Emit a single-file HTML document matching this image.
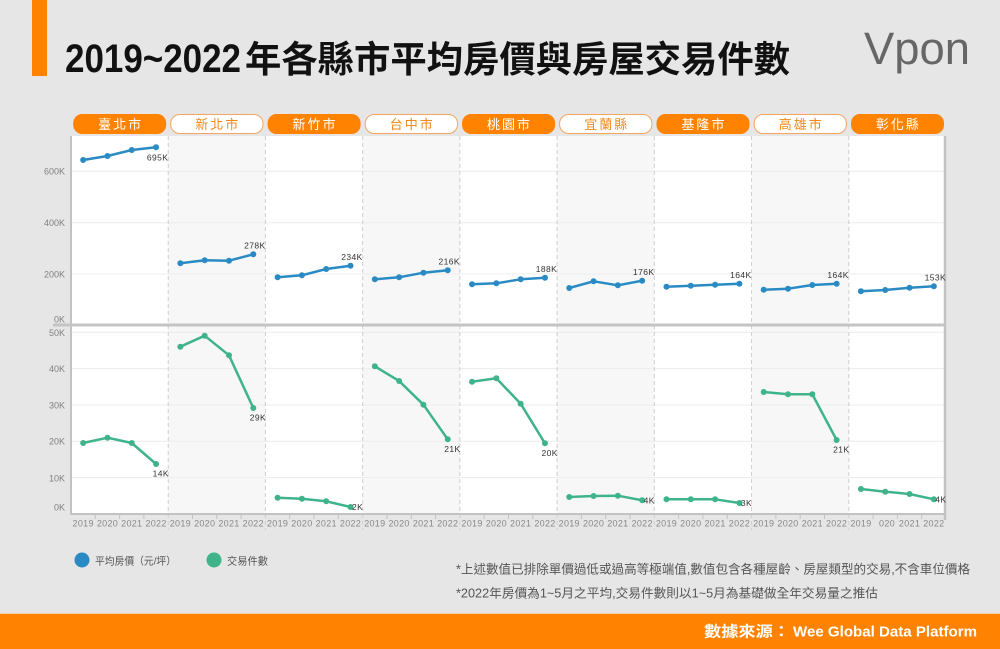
<!DOCTYPE html>
<html><head><meta charset="utf-8"><style>
html,body{margin:0;padding:0;background:#e6e6e6;}
svg{display:block;}
text{font-family:"Liberation Sans","Noto Sans CJK TC",sans-serif;}
</style></head><body>
<svg width="1000" height="649" viewBox="0 0 1000 649" xmlns="http://www.w3.org/2000/svg">
<rect x="0" y="0" width="1000" height="649" fill="#e6e6e6"/>
<!-- title -->
<rect x="32" y="0" width="15" height="76" fill="#ff8300"/>
<text x="65" y="72" font-size="40" font-weight="bold" fill="#111" textLength="176" lengthAdjust="spacingAndGlyphs">2019~2022</text>
<text x="245" y="72" font-size="36.5" font-weight="bold" fill="#111" textLength="545" lengthAdjust="spacingAndGlyphs" style="font-family:'Noto Sans CJK TC',sans-serif">年各縣市平均房價與房屋交易件數</text>
<text x="864" y="64" font-size="45" fill="#666" textLength="106" lengthAdjust="spacingAndGlyphs">Vpon</text>

<!-- tabs -->
<g font-size="13" text-anchor="middle" letter-spacing="2" style="font-family:'Noto Sans CJK TC',sans-serif">
<rect x="73.2" y="114" width="93" height="20" rx="9" fill="#ff8300"/><text x="120.6" y="129" fill="#fff">臺北市</text>
<rect x="170.7" y="114.5" width="92.3" height="19" rx="9" fill="#fff" stroke="#f2a55e" stroke-width="1"/><text x="217.8" y="129" fill="#f08a1a">新北市</text>
<rect x="267.6" y="114" width="93" height="20" rx="9" fill="#ff8300"/><text x="315" y="129" fill="#fff">新竹市</text>
<rect x="365.2" y="114.5" width="92.3" height="19" rx="9" fill="#fff" stroke="#f2a55e" stroke-width="1"/><text x="412.3" y="129" fill="#f08a1a">台中市</text>
<rect x="462.1" y="114" width="93" height="20" rx="9" fill="#ff8300"/><text x="509.5" y="129" fill="#fff">桃園市</text>
<rect x="559.6" y="114.5" width="92.3" height="19" rx="9" fill="#fff" stroke="#f2a55e" stroke-width="1"/><text x="606.7" y="129" fill="#f08a1a">宜蘭縣</text>
<rect x="656.5" y="114" width="93" height="20" rx="9" fill="#ff8300"/><text x="703.9" y="129" fill="#fff">基隆市</text>
<rect x="754.1" y="114.5" width="92.3" height="19" rx="9" fill="#fff" stroke="#f2a55e" stroke-width="1"/><text x="801.2" y="129" fill="#f08a1a">高雄市</text>
<rect x="851" y="114" width="93" height="20" rx="9" fill="#ff8300"/><text x="898.4" y="129" fill="#fff">彰化縣</text>
</g>

<!-- plot backgrounds -->
<rect x="71" y="136" width="875" height="378" fill="#ffffff"/>
<g fill="#f7f7f7">
<rect x="168.22" y="136" width="97.22" height="378"/>
<rect x="362.67" y="136" width="97.22" height="378"/>
<rect x="557.11" y="136" width="97.22" height="378"/>
<rect x="751.56" y="136" width="97.22" height="378"/>
</g>
<!-- gridlines -->
<g stroke="#ececec" stroke-width="1">
<line x1="71" x2="946" y1="171.3" y2="171.3"/>
<line x1="71" x2="946" y1="222.7" y2="222.7"/>
<line x1="71" x2="946" y1="274" y2="274"/>
<line x1="71" x2="946" y1="332.3" y2="332.3"/>
<line x1="71" x2="946" y1="368.6" y2="368.6"/>
<line x1="71" x2="946" y1="405" y2="405"/>
<line x1="71" x2="946" y1="441.3" y2="441.3"/>
<line x1="71" x2="946" y1="477.6" y2="477.6"/>
</g>
<!-- dashed separators -->
<g stroke="#cfcfcf" stroke-width="1" stroke-dasharray="4 3">
<line x1="168.22" x2="168.22" y1="136" y2="530"/>
<line x1="265.44" x2="265.44" y1="136" y2="530"/>
<line x1="362.67" x2="362.67" y1="136" y2="530"/>
<line x1="459.89" x2="459.89" y1="136" y2="530"/>
<line x1="557.11" x2="557.11" y1="136" y2="530"/>
<line x1="654.33" x2="654.33" y1="136" y2="530"/>
<line x1="751.56" x2="751.56" y1="136" y2="530"/>
<line x1="848.78" x2="848.78" y1="136" y2="530"/>
</g>
<!-- axes -->
<line x1="71" x2="71" y1="136" y2="515" stroke="#c2c2c2" stroke-width="2"/>
<line x1="945" x2="945" y1="136" y2="520" stroke="#c2c2c2" stroke-width="2.5"/>
<line x1="53" x2="946" y1="325" y2="325" stroke="#c4c4c4" stroke-width="3"/>
<line x1="70" x2="946" y1="514" y2="514" stroke="#c2c2c2" stroke-width="2"/>
<g stroke="#c2c2c2" stroke-width="1">
<path d="M95.3 514v5M119.6 514v5M143.9 514v5M192.5 514v5M216.8 514v5M241.1 514v5M289.7 514v5M314 514v5M338.3 514v5M387 514v5M411.3 514v5M435.6 514v5M484.2 514v5M508.5 514v5M532.8 514v5M581.4 514v5M605.7 514v5M630 514v5M678.6 514v5M702.9 514v5M727.2 514v5M775.9 514v5M800.2 514v5M824.5 514v5M873.1 514v5M897.4 514v5M921.7 514v5"/>
</g>

<!-- y labels -->
<g font-size="9" fill="#808080" text-anchor="end">
<text x="65" y="174.5">600K</text>
<text x="65" y="226">400K</text>
<text x="65" y="277.3">200K</text>
<text x="65" y="322.3">0K</text>
<text x="65" y="336">50K</text>
<text x="65" y="372">40K</text>
<text x="65" y="408.6">30K</text>
<text x="65" y="444.6">20K</text>
<text x="65" y="481.3">10K</text>
<text x="65" y="510.6">0K</text>
</g>
<!-- year labels -->
<g font-size="9" fill="#888" text-anchor="middle" letter-spacing="0.3">
<text x="83.15" y="526.5">2019</text><text x="107.46" y="526.5">2020</text><text x="131.76" y="526.5">2021</text><text x="156.07" y="526.5">2022</text>
<text x="180.37" y="526.5">2019</text><text x="204.68" y="526.5">2020</text><text x="228.98" y="526.5">2021</text><text x="253.29" y="526.5">2022</text>
<text x="277.59" y="526.5">2019</text><text x="301.9" y="526.5">2020</text><text x="326.2" y="526.5">2021</text><text x="350.51" y="526.5">2022</text>
<text x="374.82" y="526.5">2019</text><text x="399.13" y="526.5">2020</text><text x="423.43" y="526.5">2021</text><text x="447.74" y="526.5">2022</text>
<text x="472.04" y="526.5">2019</text><text x="496.35" y="526.5">2020</text><text x="520.65" y="526.5">2021</text><text x="544.96" y="526.5">2022</text>
<text x="569.26" y="526.5">2019</text><text x="593.57" y="526.5">2020</text><text x="617.87" y="526.5">2021</text><text x="642.18" y="526.5">2022</text>
<text x="666.48" y="526.5">2019</text><text x="690.79" y="526.5">2020</text><text x="715.09" y="526.5">2021</text><text x="739.4" y="526.5">2022</text>
<text x="763.71" y="526.5">2019</text><text x="788.02" y="526.5">2020</text><text x="812.32" y="526.5">2021</text><text x="836.63" y="526.5">2022</text>
<text x="860.93" y="526.5">2019</text><text x="887" y="526.5">020</text><text x="909.54" y="526.5">2021</text><text x="933.85" y="526.5">2022</text>
</g>

<!-- price lines -->
<g fill="none" stroke="#2a8bc4" stroke-width="2.5" stroke-linejoin="round">
<polyline points="83.15,160 107.46,156 131.76,150 156.07,147.3"/>
<polyline points="180.37,263.3 204.68,260.3 228.98,260.7 253.29,254.3"/>
<polyline points="277.59,277.3 301.9,275.3 326.2,269 350.51,265.7"/>
<polyline points="374.82,279.3 399.13,277.3 423.43,272.7 447.74,270.3"/>
<polyline points="472.04,284.3 496.35,283.3 520.65,279.3 544.96,277.7"/>
<polyline points="569.26,288 593.57,281.3 617.87,285.3 642.18,280.7"/>
<polyline points="666.48,286.7 690.79,285.7 715.09,284.7 739.4,283.7"/>
<polyline points="763.71,289.7 788.02,288.7 812.32,285 836.63,283.7"/>
<polyline points="860.93,291.3 885.24,290 909.54,287.7 933.85,286.3"/>
</g>
<g fill="#2a8bc4">
<circle cx="83.15" cy="160" r="3"/><circle cx="107.46" cy="156" r="3"/><circle cx="131.76" cy="150" r="3"/><circle cx="156.07" cy="147.3" r="3"/>
<circle cx="180.37" cy="263.3" r="3"/><circle cx="204.68" cy="260.3" r="3"/><circle cx="228.98" cy="260.7" r="3"/><circle cx="253.29" cy="254.3" r="3"/>
<circle cx="277.59" cy="277.3" r="3"/><circle cx="301.9" cy="275.3" r="3"/><circle cx="326.2" cy="269" r="3"/><circle cx="350.51" cy="265.7" r="3"/>
<circle cx="374.82" cy="279.3" r="3"/><circle cx="399.13" cy="277.3" r="3"/><circle cx="423.43" cy="272.7" r="3"/><circle cx="447.74" cy="270.3" r="3"/>
<circle cx="472.04" cy="284.3" r="3"/><circle cx="496.35" cy="283.3" r="3"/><circle cx="520.65" cy="279.3" r="3"/><circle cx="544.96" cy="277.7" r="3"/>
<circle cx="569.26" cy="288" r="3"/><circle cx="593.57" cy="281.3" r="3"/><circle cx="617.87" cy="285.3" r="3"/><circle cx="642.18" cy="280.7" r="3"/>
<circle cx="666.48" cy="286.7" r="3"/><circle cx="690.79" cy="285.7" r="3"/><circle cx="715.09" cy="284.7" r="3"/><circle cx="739.4" cy="283.7" r="3"/>
<circle cx="763.71" cy="289.7" r="3"/><circle cx="788.02" cy="288.7" r="3"/><circle cx="812.32" cy="285" r="3"/><circle cx="836.63" cy="283.7" r="3"/>
<circle cx="860.93" cy="291.3" r="3"/><circle cx="885.24" cy="290" r="3"/><circle cx="909.54" cy="287.7" r="3"/><circle cx="933.85" cy="286.3" r="3"/>
</g>

<!-- volume lines -->
<g fill="none" stroke="#3fb48a" stroke-width="2.5" stroke-linejoin="round">
<polyline points="83.15,443 107.46,437.7 131.76,443 156.07,464"/>
<polyline points="180.37,346.7 204.68,335.7 228.98,355.3 253.29,408"/>
<polyline points="277.59,497.7 301.9,498.7 326.2,501.3 350.51,507"/>
<polyline points="374.82,366.3 399.13,381 423.43,404.7 447.74,439.3"/>
<polyline points="472.04,381.7 496.35,378.3 520.65,403.7 544.96,443.3"/>
<polyline points="569.26,497 593.57,496 617.87,495.7 642.18,500.3"/>
<polyline points="666.48,499.3 690.79,499.3 715.09,499.3 739.4,503"/>
<polyline points="763.71,392 788.02,394.3 812.32,394.3 836.63,440"/>
<polyline points="860.93,489 885.24,491.7 909.54,494 933.85,499.3"/>
</g>
<g fill="#3fb48a">
<circle cx="83.15" cy="443" r="3"/><circle cx="107.46" cy="437.7" r="3"/><circle cx="131.76" cy="443" r="3"/><circle cx="156.07" cy="464" r="3"/>
<circle cx="180.37" cy="346.7" r="3"/><circle cx="204.68" cy="335.7" r="3"/><circle cx="228.98" cy="355.3" r="3"/><circle cx="253.29" cy="408" r="3"/>
<circle cx="277.59" cy="497.7" r="3"/><circle cx="301.9" cy="498.7" r="3"/><circle cx="326.2" cy="501.3" r="3"/><circle cx="350.51" cy="507" r="3"/>
<circle cx="374.82" cy="366.3" r="3"/><circle cx="399.13" cy="381" r="3"/><circle cx="423.43" cy="404.7" r="3"/><circle cx="447.74" cy="439.3" r="3"/>
<circle cx="472.04" cy="381.7" r="3"/><circle cx="496.35" cy="378.3" r="3"/><circle cx="520.65" cy="403.7" r="3"/><circle cx="544.96" cy="443.3" r="3"/>
<circle cx="569.26" cy="497" r="3"/><circle cx="593.57" cy="496" r="3"/><circle cx="617.87" cy="495.7" r="3"/><circle cx="642.18" cy="500.3" r="3"/>
<circle cx="666.48" cy="499.3" r="3"/><circle cx="690.79" cy="499.3" r="3"/><circle cx="715.09" cy="499.3" r="3"/><circle cx="739.4" cy="503" r="3"/>
<circle cx="763.71" cy="392" r="3"/><circle cx="788.02" cy="394.3" r="3"/><circle cx="812.32" cy="394.3" r="3"/><circle cx="836.63" cy="440" r="3"/>
<circle cx="860.93" cy="489" r="3"/><circle cx="885.24" cy="491.7" r="3"/><circle cx="909.54" cy="494" r="3"/><circle cx="933.85" cy="499.3" r="3"/>
</g>

<!-- value labels -->
<g font-size="8.5" fill="#333" letter-spacing="0.4">
<g text-anchor="middle">
<text x="157.6" y="160.5">695K</text>
<text x="254.8" y="248.6">278K</text>
<text x="352" y="260">234K</text>
<text x="449.2" y="264.6">216K</text>
<text x="546.5" y="272">188K</text>
<text x="643.7" y="275">176K</text>
<text x="740.9" y="278">164K</text>
<text x="838.1" y="278">164K</text>
<text x="935.3" y="280.6">153K</text>
</g>
<text x="152.6" y="476.5">14K</text>
<text x="249.8" y="420.5">29K</text>
<text x="352" y="510">2K</text>
<text x="444.2" y="451.8">21K</text>
<text x="541.5" y="455.8">20K</text>
<text x="643.6" y="503.3">4K</text>
<text x="740.9" y="506">3K</text>
<text x="833.1" y="452.5">21K</text>
<text x="935.3" y="502.3">4K</text>
</g>

<!-- legend -->
<circle cx="82" cy="560" r="7.5" fill="#2a8bc4"/>
<text x="95" y="564.5" font-size="10.5" fill="#555" textLength="81" lengthAdjust="spacingAndGlyphs">平均房價（元/坪）</text>
<circle cx="214" cy="560" r="7.5" fill="#3fb48a"/>
<text x="227" y="564.5" font-size="10.5" fill="#555" textLength="41" lengthAdjust="spacingAndGlyphs">交易件數</text>

<!-- notes -->
<text x="456" y="573.5" font-size="12.5" fill="#555" textLength="514" lengthAdjust="spacingAndGlyphs">*上述數值已排除單價過低或過高等極端值,數值包含各種屋齡、房屋類型的交易,不含車位價格</text>
<text x="456" y="597.5" font-size="12.5" fill="#555" textLength="422" lengthAdjust="spacingAndGlyphs">*2022年房價為1~5月之平均,交易件數則以1~5月為基礎做全年交易量之推估</text>

<!-- footer -->
<rect x="0" y="613" width="1000" height="1" fill="#f2d2ad"/>
<rect x="0" y="614" width="1000" height="35" fill="#ff8300"/>
<text x="704" y="636.5" font-size="15" font-weight="bold" fill="#fff" textLength="86" lengthAdjust="spacingAndGlyphs" style="font-family:'Noto Sans CJK TC',sans-serif">數據來源：</text>
<text x="793" y="636.5" font-size="15" font-weight="bold" fill="#fff" textLength="184" lengthAdjust="spacingAndGlyphs">Wee Global Data Platform</text>
</svg>
</body></html>
